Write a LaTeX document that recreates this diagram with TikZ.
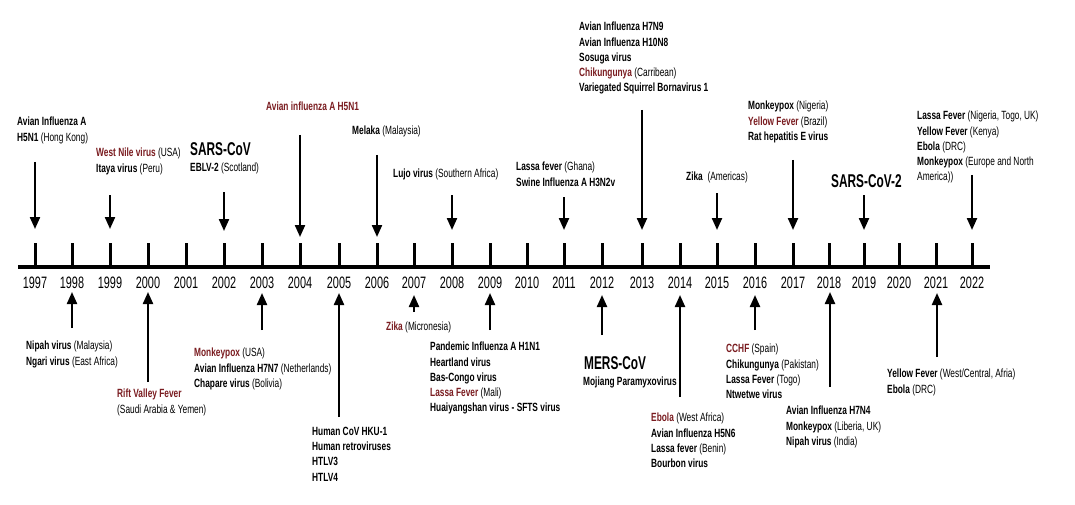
\documentclass[tikz,border=0pt]{standalone}
\usepackage{fontspec}
\setmainfont{Liberation Sans}[FakeStretch=0.70]
\newfontfamily\bigfam{Liberation Sans}[FakeStretch=0.64]
\newfontfamily\yearfam{Liberation Sans}[FakeStretch=0.66]
\usetikzlibrary{arrows.meta}
\definecolor{vred}{RGB}{122,28,32}
\newcommand\Vb[1]{\textbf{#1}}
\newcommand\Vr[1]{\textcolor{vred}{\textbf{#1}}}
\tikzset{
  lbl/.style={anchor=north west, inner sep=0pt, align=left, font=\fontsize{11.9}{15.2}\selectfont},
  biglbl/.style={anchor=north west, inner sep=0pt, font=\fontsize{18.5}{22}\bigfam\bfseries},
  yearlbl/.style={inner sep=0pt, font=\fontsize{16.5}{18}\yearfam},
  axisline/.style={line width=4pt},
  tickline/.style={line width=3pt},
  arr/.style={line width=2.2pt, -{Triangle[width=10pt,length=12pt]}},
}
\begin{document}
\begin{tikzpicture}[x=1pt,y=-1pt]
\fill[white] (0,0) rectangle (1075,505);
\useasboundingbox (0,0) rectangle (1075,505);

% axis
\coordinate (axL) at (18,267);
\coordinate (axR) at (990,267);
\draw[axisline] (axL) -- (axR);

% ticks and years
\foreach \yr/\x in {1997/35,1998/72,1999/110,2000/148,2001/186,2002/224,2003/262,2004/300,2005/339,2006/377,2007/414,2008/452,2009/490,2010/527,2011/564,2012/602,2013/642,2014/680,2015/717,2016/755,2017/793,2018/829,2019/864,2020/899,2021/936,2022/972}{
  \coordinate (top\yr) at (\x,243);
  \coordinate (base\yr) at (\x,267);
  \draw[tickline] (top\yr) -- (base\yr);
  \node[yearlbl] (y\yr) at (\x,283) {\yr};
}

% downward arrows (above axis)
\foreach \n/\x/\s/\e in {a1997/35/162/229,a1999/110/195/229,a2002/224/192/231,a2004/300/135/237,a2006/377/155/237,a2008/452/195/230,a2011/564/197/230,a2013/642/110/230,a2015/717/193/230,a2017/793/160/230,a2019/864/195/230,a2022/972/175/230}{
  \coordinate (\n s) at (\x,\s);
  \coordinate (\n e) at (\x,\e);
  \draw[arr] (\n s) -- (\n e);
}

% upward arrows (below axis)
\foreach \n/\x/\s/\e in {b1998/72/328/292,b2000/148/382/292,b2003/262/330/293,b2005/339/417/293,b2007/414/312/295,b2009/490/330/293,b2012/602/335/295,b2014/680/397/295,b2016/755/330/295,b2018/830/387/292,b2021/937/357/293}{
  \coordinate (\n s) at (\x,\s);
  \coordinate (\n e) at (\x,\e);
  \draw[arr] (\n s) -- (\n e);
}

% labels above
\node[lbl] (n1997) at (17,117) {\Vb{Avian Influenza A}\\\Vb{H5N1} (Hong Kong)};
\node[lbl] (n1999) at (96,148) {\Vr{West Nile virus} (USA)\\\Vb{Itaya virus} (Peru)};
\node[biglbl] (n2002a) at (190,142) {SARS-CoV};
\node[lbl] (n2002b) at (190,163) {\Vb{EBLV-2} (Scotland)};
\node[lbl] (n2004) at (266,102) {\Vr{Avian influenza A H5N1}};
\node[lbl] (n2006) at (352,126) {\Vb{Melaka} (Malaysia)};
\node[lbl] (n2008) at (393,169) {\Vb{Lujo virus} (Southern Africa)};
\node[lbl] (n2011) at (516,162) {\Vb{Lassa fever} (Ghana)\\\Vb{Swine Influenza A H3N2v}};
\node[lbl] (n2013) at (579,22) {\Vb{Avian Influenza H7N9}\\\Vb{Avian Influenza H10N8}\\\Vb{Sosuga virus}\\\Vr{Chikungunya} (Carribean)\\\Vb{Variegated Squirrel Bornavirus 1}};
\node[lbl] (n2015) at (686,172) {\Vb{Zika}\ \ (Americas)};
\node[lbl] (n2017) at (748,101) {\Vb{Monkeypox} (Nigeria)\\\Vr{Yellow Fever} (Brazil)\\\Vb{Rat hepatitis E virus}};
\node[biglbl] (n2019) at (831,174) {SARS-CoV-2};
\node[lbl] (n2022) at (917,111) {\Vb{Lassa Fever} (Nigeria, Togo, UK)\\\Vb{Yellow Fever} (Kenya)\\\Vb{Ebola} (DRC)\\\Vb{Monkeypox} (Europe and North\\America))};

% labels below
\node[lbl] (n1998) at (26,341) {\Vb{Nipah virus} (Malaysia)\\\Vb{Ngari virus} (East Africa)};
\node[lbl] (n2000) at (117,389) {\Vr{Rift Valley Fever}\\(Saudi Arabia \& Yemen)};
\node[lbl] (n2003) at (194,348) {\Vr{Monkeypox} (USA)\\\Vb{Avian Influenza H7N7} (Netherlands)\\\Vb{Chapare virus} (Bolivia)};
\node[lbl] (n2005) at (312,427) {\Vb{Human CoV HKU-1}\\\Vb{Human retroviruses}\\\Vb{HTLV3}\\\Vb{HTLV4}};
\node[lbl] (n2007) at (386,322) {\Vr{Zika} (Micronesia)};
\node[lbl] (n2009) at (430,342) {\Vb{Pandemic Influenza A H1N1}\\\Vb{Heartland virus}\\\Vb{Bas-Congo virus}\\\Vr{Lassa Fever} (Mali)\\\Vb{Huaiyangshan virus - SFTS virus}};
\node[biglbl] (n2012a) at (584,356) {MERS-CoV};
\node[lbl] (n2012b) at (583,377) {\Vb{Mojiang Paramyxovirus}};
\node[lbl] (n2014) at (651,413) {\Vr{Ebola} (West Africa)\\\Vb{Avian Influenza H5N6}\\\Vb{Lassa fever} (Benin)\\\Vb{Bourbon virus}};
\node[lbl] (n2016) at (726,344) {\Vr{CCHF} (Spain)\\\Vb{Chikungunya} (Pakistan)\\\Vb{Lassa Fever} (Togo)\\\Vb{Ntwetwe virus}};
\node[lbl] (n2018) at (786,406) {\Vb{Avian Influenza H7N4}\\\Vb{Monkeypox} (Liberia, UK)\\\Vb{Nipah virus} (India)};
\node[lbl] (n2021) at (887,369) {\Vb{Yellow Fever} (West/Central, Afria)\\\Vb{Ebola} (DRC)};
\end{tikzpicture}
\end{document}
